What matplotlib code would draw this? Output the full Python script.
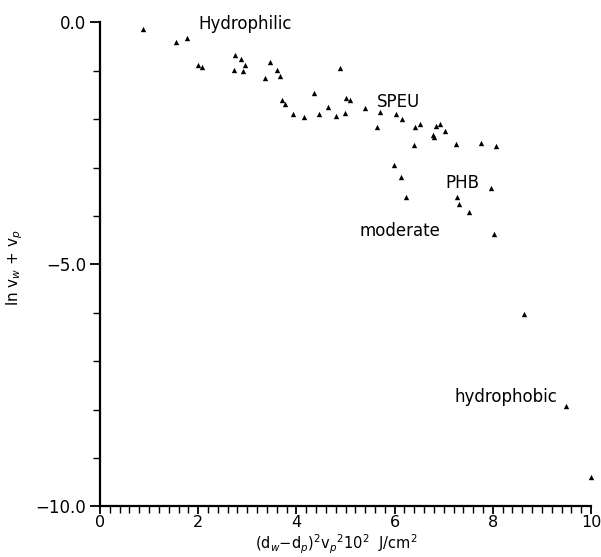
import matplotlib
matplotlib.use('Agg')
import matplotlib.pyplot as plt
from matplotlib.ticker import MultipleLocator, FixedLocator

# data
x_vals = [0.88, 1.55, 1.78, 2.00, 2.08, 2.74, 2.72, 2.88, 2.95, 2.92,
          3.46, 3.61, 3.67, 3.36, 3.70, 3.77, 3.94, 4.15, 4.36, 4.46,
          4.65, 4.81, 4.89, 4.99, 5.02, 5.10, 5.40, 5.64, 5.70, 6.02,
          6.16, 6.42, 6.52, 6.40, 6.84, 6.92, 6.78, 6.81, 7.03, 7.26,
          7.75, 8.06, 5.98, 6.12, 6.24, 7.28, 7.32, 7.52, 7.96, 8.03,
          8.64, 9.49, 9.99]
y_vals = [-0.13, -0.40, -0.33, -0.88, -0.92, -0.67, -0.99, -0.76, -0.88, -1.00,
          -0.81, -0.98, -1.10, -1.15, -1.60, -1.68, -1.89, -1.96, -1.45, -1.89,
          -1.74, -1.94, -0.94, -1.87, -1.56, -1.60, -1.77, -2.16, -1.86, -1.89,
          -2.00, -2.15, -2.10, -2.54, -2.13, -2.10, -2.32, -2.37, -2.25, -2.51,
          -2.50, -2.55, -2.94, -3.20, -3.60, -3.60, -3.75, -3.92, -3.41, -4.38,
          -6.02, -7.93, -9.40]

labels = ['Hydrophilic', 'SPEU', 'PHB', 'moderate', 'hydrophobic']
label_x = [2.0, 5.64, 7.04, 5.28, 7.21]
label_y = [-0.03, -1.65, -3.32, -4.31, -7.73]

x_ticks = [0, 2, 4, 6, 8, 10]
y_ticks = [0.0, -5.0, -10.0]

plt.rcParams['font.family'] = ['DejaVu Sans']
plt.rcParams['mathtext.fontset'] = 'dejavusans'

fig = plt.figure(figsize=(6.01, 5.57), dpi=100)
ax = fig.add_axes([0.1664, 0.0907, 0.817, 0.869])

ax.scatter(x_vals, y_vals, marker='^', s=15, color='black', linewidths=0, clip_on=False, zorder=3)

for t, lx, ly in zip(labels, label_x, label_y):
    ax.text(lx, ly, t, fontsize=12, ha='left', va='center')

ax.set_xlim(0, 10)
ax.set_ylim(-10, 0)
ax.spines['top'].set_visible(False)
ax.spines['right'].set_visible(False)
for s in ['left', 'bottom']:
    ax.spines[s].set_linewidth(1.6)

ax.xaxis.set_major_locator(FixedLocator(x_ticks))
ax.xaxis.set_minor_locator(MultipleLocator(0.2))
ax.set_xticklabels([str(v) for v in x_ticks])
ax.yaxis.set_major_locator(FixedLocator(y_ticks))
ax.yaxis.set_minor_locator(MultipleLocator(1))
ax.set_yticklabels(['0.0', '\u22125.0', '\u221210.0'])

ax.tick_params(axis='both', which='major', direction='out', width=1.3, labelsize=12)
ax.tick_params(axis='x', which='major', length=6, pad=0, labelsize=11.5)
ax.tick_params(axis='y', which='major', length=7, pad=3)
ax.tick_params(axis='both', which='minor', direction='out', length=5, width=1.0)

# axis titles placed in figure coords so they sit where the reference has them
fig.text(0.56, 0.002, r'(d$_w$$-$d$_p$)$^2$v$_p$$^2$10$^2$  J/cm$^2$', fontsize=10.5,
         ha='center', va='bottom')
fig.text(0.008, 0.52, r'ln v$_w$ + v$_p$', fontsize=11, rotation=90,
         ha='left', va='center')

fig.savefig('out.png', dpi=100, facecolor='white')
